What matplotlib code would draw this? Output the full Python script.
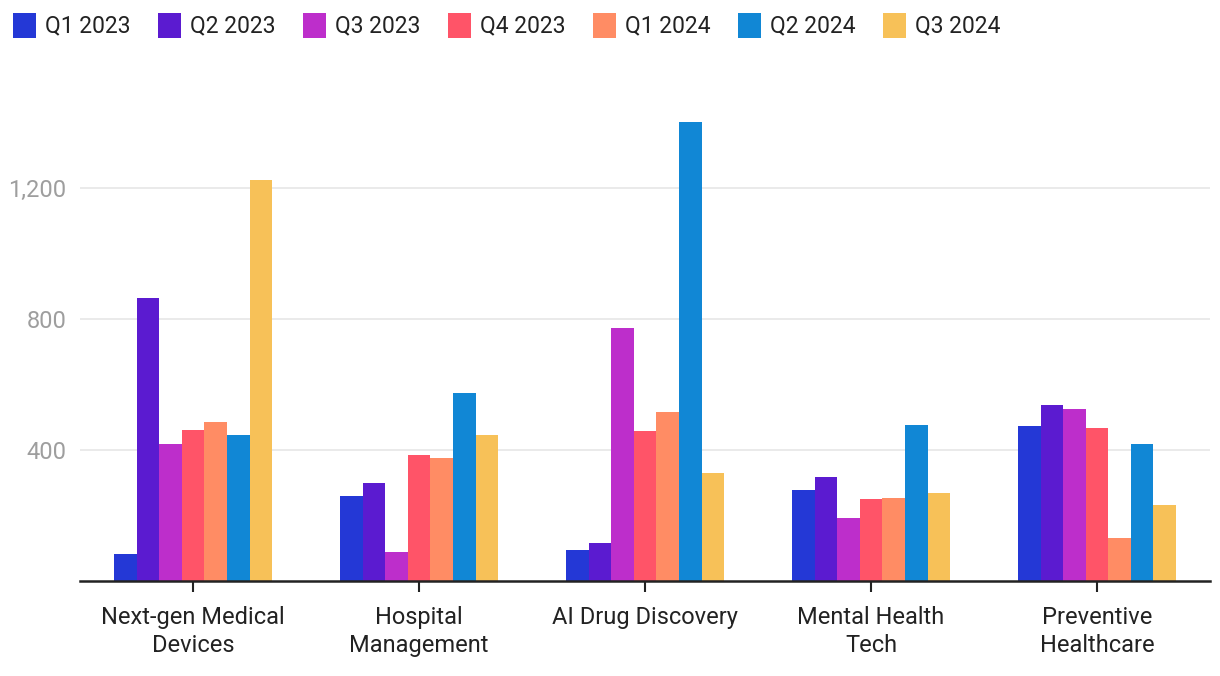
import numpy as np
import matplotlib.pyplot as plt

plt.rcParams['font.family'] = ['Roboto', 'DejaVu Sans']

categories = ['Next-gen Medical\nDevices', 'Hospital\nManagement', 'AI Drug Discovery',
              'Mental Health\nTech', 'Preventive\nHealthcare']
quarters = ['Q1 2023', 'Q2 2023', 'Q3 2023', 'Q4 2023', 'Q1 2024', 'Q2 2024', 'Q3 2024']
q1_2023 = [82, 260, 95, 278, 473]
q2_2023 = [864, 299, 116, 318, 537]
q3_2023 = [418, 89, 773, 192, 525]
q4_2023 = [461, 385, 458, 250, 467]
q1_2024 = [486, 376, 516, 253, 131]
q2_2024 = [446, 574, 1402, 476, 418]
q3_2024 = [1227, 446, 330, 269, 232]
series = [q1_2023, q2_2023, q3_2023, q4_2023, q1_2024, q2_2024, q3_2024]
colors = ['#2438d6', '#5b1bd0', '#bd2ecb', '#ff5468', '#ff8c64', '#1187d5', '#f7c158']

fig = plt.figure(figsize=(12.2, 6.76), dpi=100)
ax = fig.add_axes([0.0656, 0.1405, 0.9262, 0.7115])

x = np.arange(len(categories))
w = 0.1
for i, (vals, c, q) in enumerate(zip(series, colors, quarters)):
    ax.bar(x + (i - 3) * w, vals, width=w, color=c, label=q, zorder=2)

ax.set_xlim(-0.5, 4.5)
ax.set_ylim(0, 1470)
ax.set_yticks([400, 800, 1200])
ax.set_yticklabels(['400', '800', '1,200'])
ax.yaxis.grid(True, color='#e6e6e6', linewidth=1.2, zorder=0)
ax.tick_params(axis='y', length=0, labelsize=17, labelcolor='#9e9e9e', pad=10)
ax.set_xticks(x)
ax.set_xticklabels(categories, fontsize=17, color='#222222', linespacing=1.3)
ax.tick_params(axis='x', length=8, width=1.5, color='#222222', pad=10)
for s in ['top', 'right', 'left']:
    ax.spines[s].set_visible(False)
ax.spines['bottom'].set_linewidth(1.8)
ax.spines['bottom'].set_color('#222222')

fig.legend(loc='upper left', bbox_to_anchor=(0.0, 1.0), ncol=7, frameon=False,
           fontsize=16.5, handlelength=1.0, handleheight=1.3, handletextpad=0.4,
           columnspacing=1.2, borderaxespad=0.15, labelcolor='#222222')

fig.savefig('out.png', dpi=100)
